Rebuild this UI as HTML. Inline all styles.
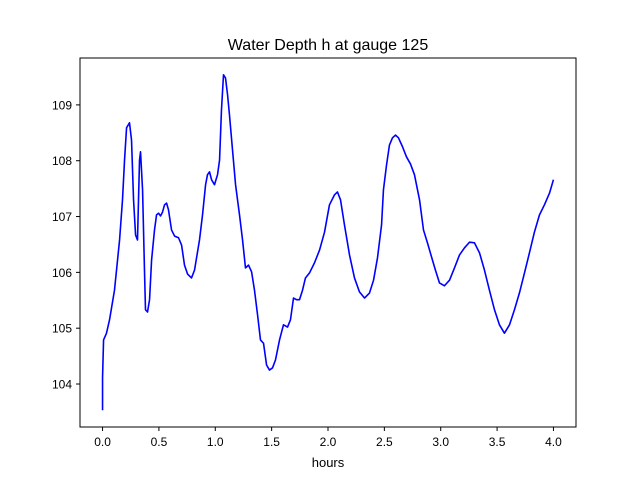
<!DOCTYPE html>
<html><head><meta charset="utf-8"><style>
body{margin:0;background:#fff}
svg text{font-family:"Liberation Sans","DejaVu Sans",sans-serif;fill:#000}
</style></head><body>
<svg id="chart" width="640" height="480" viewBox="0 0 640 480" xmlns="http://www.w3.org/2000/svg">
<rect x="0" y="0" width="640" height="480" fill="#fff"/>
<text x="328" y="50" font-size="16" text-anchor="middle">Water Depth h at gauge 125</text>
<g id="xticks"></g>
<g id="yticks"></g>
<polyline id="series" fill="none" stroke="#0000ff" stroke-width="1.6" stroke-linejoin="round"/>
<rect x="80" y="58" width="496" height="369" fill="none" stroke="#000" stroke-width="1"/>
<text x="328" y="467" font-size="13" text-anchor="middle">hours</text>
</svg>
<script>
const hours=[0,0,0.009,0.035,0.062,0.106,0.151,0.177,0.195,0.213,0.239,0.257,0.275,0.293,0.310,0.319,0.328,0.337,0.355,0.372,0.381,0.399,0.417,0.435,0.461,0.479,0.497,0.514,0.532,0.550,0.568,0.585,0.612,0.639,0.674,0.701,0.727,0.754,0.789,0.816,0.860,0.887,0.914,0.931,0.949,0.967,0.993,1.020,1.038,1.055,1.073,1.091,1.109,1.126,1.153,1.180,1.215,1.242,1.268,1.295,1.322,1.348,1.375,1.401,1.428,1.455,1.481,1.508,1.534,1.570,1.605,1.641,1.667,1.694,1.721,1.747,1.774,1.800,1.836,1.880,1.925,1.969,2.013,2.058,2.084,2.111,2.146,2.191,2.235,2.279,2.324,2.368,2.404,2.439,2.475,2.492,2.519,2.545,2.572,2.599,2.625,2.661,2.696,2.732,2.767,2.812,2.847,2.882,2.918,2.953,2.989,3.033,3.078,3.122,3.166,3.211,3.255,3.299,3.344,3.388,3.432,3.477,3.521,3.565,3.610,3.654,3.698,3.743,3.787,3.831,3.876,3.920,3.965,4.0];
const depth=[103.53,104.11,104.79,104.91,105.15,105.68,106.58,107.30,108.01,108.59,108.68,108.37,107.30,106.67,106.58,107.30,108.01,108.16,107.48,106.04,105.33,105.29,105.51,106.22,106.76,107.03,107.06,107.01,107.08,107.21,107.24,107.12,106.76,106.65,106.62,106.49,106.13,105.97,105.90,106.04,106.58,107.03,107.57,107.75,107.80,107.66,107.57,107.75,108.01,108.91,109.54,109.48,109.18,108.82,108.19,107.57,107.03,106.58,106.08,106.13,106.01,105.68,105.24,104.79,104.73,104.34,104.25,104.29,104.43,104.79,105.06,105.02,105.15,105.54,105.51,105.51,105.68,105.90,105.99,106.17,106.40,106.72,107.21,107.39,107.44,107.30,106.85,106.31,105.90,105.65,105.54,105.63,105.86,106.26,106.85,107.48,107.92,108.28,108.41,108.46,108.41,108.25,108.07,107.94,107.75,107.30,106.76,106.53,106.28,106.04,105.81,105.76,105.86,106.08,106.31,106.44,106.54,106.53,106.35,106.04,105.68,105.33,105.06,104.91,105.06,105.33,105.63,105.99,106.35,106.72,107.03,107.21,107.42,107.66];
const xTickValues=[0,0.5,1,1.5,2,2.5,3,3.5,4];
const xTickLabels=["0.0","0.5","1.0","1.5","2.0","2.5","3.0","3.5","4.0"];
const yTickValues=[104,105,106,107,108,109];
const yTickLabels=["104","105","106","107","108","109"];
const X0=80,X1=576,Y0=427,Y1=58,xmin=-0.2,xmax=4.2,ymin=103.23,ymax=109.84;
const sx=v=>X0+(v-xmin)/(xmax-xmin)*(X1-X0);
const sy=v=>Y0-(v-ymin)/(ymax-ymin)*(Y0-Y1);
const NS="http://www.w3.org/2000/svg";
const xg=document.getElementById('xticks'),yg=document.getElementById('yticks');
xTickValues.forEach((v,i)=>{
 const l=document.createElementNS(NS,'line');
 
 
 l.setAttribute('x1',sx(v));l.setAttribute('x2',sx(v));l.setAttribute('y1',427);l.setAttribute('y2',431);l.setAttribute('stroke','#000');
 xg.appendChild(l);
 const t=document.createElementNS(NS,'text');
 
 
 t.setAttribute('x',sx(v));t.setAttribute('y',446);t.setAttribute('font-size','12');t.setAttribute('text-anchor','middle');
 t.textContent=xTickLabels[i];xg.appendChild(t);
});
yTickValues.forEach((v,i)=>{
 const l=document.createElementNS(NS,'line');
 
 
 l.setAttribute('x1',76);l.setAttribute('x2',80);l.setAttribute('y1',sy(v));l.setAttribute('y2',sy(v));l.setAttribute('stroke','#000');
 yg.appendChild(l);
 const t=document.createElementNS(NS,'text');
 
 
 t.setAttribute('x',72);t.setAttribute('y',sy(v)+4.5);t.setAttribute('font-size','12');t.setAttribute('text-anchor','end');
 t.textContent=yTickLabels[i];yg.appendChild(t);
});
document.getElementById('series').setAttribute('points',hours.map((h,i)=>sx(h).toFixed(2)+','+sy(depth[i]).toFixed(2)).join(' '));
</script>
</body></html>
